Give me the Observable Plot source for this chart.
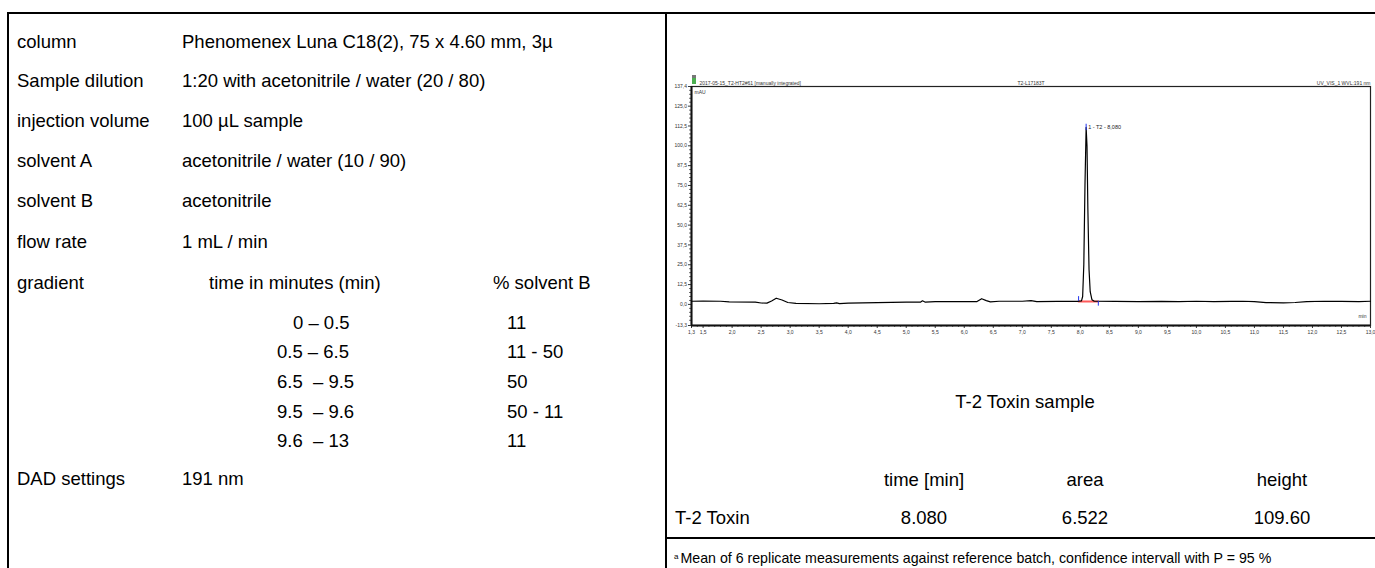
<!DOCTYPE html>
<html><head><meta charset="utf-8">
<script src="https://cdn.jsdelivr.net/npm/d3@7"></script>
<script src="https://cdn.jsdelivr.net/npm/@observablehq/plot@0.6"></script>
<style>
html,body{margin:0;padding:0;background:#fff;}
#page{position:relative;width:1375px;height:568px;overflow:hidden;font-family:"Liberation Sans",Arial,sans-serif;color:#000;}
.t{position:absolute;white-space:pre;font-size:18.5px;line-height:1;transform:translateY(-50%);}
.c{transform:translate(-50%,-50%);}
.ln{position:absolute;background:#000;}
#chart{position:absolute;left:666px;top:66px;}
#chart svg{overflow:visible;}
.icon{position:absolute;left:692px;top:75px;width:4px;height:9px;background:#4caf50;border-top:3px solid #777;box-sizing:border-box;}
</style></head><body><div id="page"></div>
<script>
// ---- method parameters (left panel) ----
const paramLabels = ["column", "Sample dilution", "injection volume", "solvent A", "solvent B", "flow rate", "gradient", "DAD settings"];
const paramValues = ["Phenomenex Luna C18(2), 75 x 4.60 mm, 3µ", "1:20 with acetonitrile / water (20 / 80)", "100 µL sample", "acetonitrile / water (10 / 90)", "acetonitrile", "1 mL / min", "", "191 nm"];
const gradientHeaders = ["time in minutes (min)", "% solvent B"];
const gradientTimes = ["0 – 0.5", "0.5 – 6.5", "6.5  – 9.5", "9.5  – 9.6", "9.6  – 13"];
const gradientB = ["11", "11 - 50", "50", "50 - 11", "11"];

// ---- chromatogram ----
const chromTitleLeft = "2017-05-15_T2-HT2#61 [manually integrated]";
const chromTitleMid = "T2-L17183T";
const chromTitleRight = "UV_VIS_1 WVL:191 nm";
const yUnit = "mAU";
const xUnit = "min";
const xDomain = [1.3, 13.0];
const yDomain = [-13.3, 137.4];
const xTicks = [1.3, 1.5, 2.0, 2.5, 3.0, 3.5, 4.0, 4.5, 5.0, 5.5, 6.0, 6.5, 7.0, 7.5, 8.0, 8.5, 9.0, 9.5, 10.0, 10.5, 11.0, 11.5, 12.0, 12.5, 13.0];
const yTicks = [-13.3, 0.0, 12.5, 25.0, 37.5, 50.0, 62.5, 75.0, 87.5, 100.0, 112.5, 125.0, 137.4];
const traceTime = [1.3, 1.5, 1.8, 1.95, 2.4, 2.5, 2.6, 2.68, 2.76, 2.86, 2.96, 3.1, 3.5, 3.75, 3.8, 3.85, 4.0, 4.5, 5.0, 5.25, 5.28, 5.33, 5.5, 6.0, 6.22, 6.3, 6.38, 6.45, 6.6, 7.0, 7.15, 7.25, 7.6, 7.95, 8.02, 8.04, 8.06, 8.08, 8.10, 8.115, 8.13, 8.15, 8.17, 8.20, 8.24, 8.6, 9.0, 9.4, 9.7, 10.0, 10.3, 10.6, 10.8, 11.0, 11.2, 11.5, 11.7, 11.9, 12.2, 12.5, 12.8, 13.0];
const traceMAU  = [2.0, 2.1, 2.0, 1.6, 1.4, 0.9, 0.8, 2.2, 3.9, 2.8, 1.2, 0.7, 0.4, 0.6, 1.0, 0.5, 0.8, 1.1, 1.4, 1.5, 2.3, 1.4, 1.7, 1.7, 1.8, 3.6, 2.4, 1.6, 2.0, 2.0, 2.4, 1.7, 1.9, 1.9, 2.2, 5, 25, 75, 111.6, 100, 60, 22, 8, 3, 2.0, 1.9, 1.8, 1.9, 1.7, 2.0, 1.7, 1.9, 2.0, 1.8, 1.1, 1.0, 1.2, 1.7, 2.0, 1.9, 1.7, 2.0];
const peakLabel = "1 - T2 - 8,080";
const peakApex = [8.10, 111.6];
const peakStart = [7.97, 1.9];
const peakEnd = [8.31, 1.9];
const markerLen = 3; // mAU

// ---- result table ----
const resultTitle = "T-2 Toxin sample";
const resultHeaders = ["time [min]", "area", "height"];
const resultCompound = "T-2 Toxin";
const resultValues = ["8.080", "6.522", "109.60"];
const footnote = "Mean of 6 replicate measurements against reference batch, confidence intervall with P = 95 %";

// ---------- layout ----------
const page = document.getElementById("page");
function txt(s, x, y, opts = {}) {
  const d = document.createElement("div");
  d.className = "t" + (opts.center ? " c" : "");
  d.textContent = s;
  d.style.left = x + "px"; d.style.top = y + "px";
  if (opts.size) d.style.fontSize = opts.size + "px";
  page.appendChild(d);
  return d;
}
function ln(x, y, w, h) {
  const d = document.createElement("div");
  d.className = "ln";
  Object.assign(d.style, {left: x + "px", top: y + "px", width: w + "px", height: h + "px"});
  page.appendChild(d);
}
ln(7, 12, 1368, 2);
ln(7, 12, 2, 556);
ln(665, 12, 2, 556);
ln(665, 537, 710, 2);

const rowY = [42, 81, 121, 161, 201, 242, 283, 479];
paramLabels.forEach((l, i) => txt(l, 17, rowY[i]));
paramValues.forEach((v, i) => { if (v) txt(v, 182, rowY[i]); });
txt(gradientHeaders[0], 209, rowY[6]);
txt(gradientHeaders[1], 493, rowY[6]);
const gradY = [323, 352, 382, 412, 441];
gradientTimes.forEach((s, i) => txt(s, i === 0 ? 293 : 277, gradY[i]));
gradientB.forEach((s, i) => txt(s, 507, gradY[i]));

txt(resultTitle, 1025, 402, {center: true});
const colX = [924, 1085, 1282];
resultHeaders.forEach((s, i) => txt(s, colX[i], 480, {center: true}));
txt(resultCompound, 675, 518);
resultValues.forEach((s, i) => txt(s, colX[i], 518, {center: true}));
const fn = txt("", 674, 558, {size: 14.2});
fn.innerHTML = '<sup style="font-size:8px;vertical-align:4px;margin-right:2px">a</sup>' + footnote;

// ---------- chromatogram ----------
const trace = traceTime.map((t, i) => ({t, v: traceMAU[i]}));
const fmt = d => d.toFixed(1).replace(".", ",");
const none = () => "";
const xMinor = d3.range(14, 130).map(d => d / 10).filter(d => Math.abs(d * 2 - Math.round(d * 2)) > 1e-6);
const yMinor = d3.range(-5, 55).map(d => d * 2.5).filter(d => d % 12.5 !== 0 && d > yDomain[0] && d < yDomain[1]);

const chart = Plot.plot({
  width: 709, height: 280,
  marginLeft: 25, marginRight: 5, marginTop: 20, marginBottom: 21,
  style: {fontFamily: "Liberation Sans, Arial, sans-serif", fontSize: "5px", background: "transparent", color: "#222"},
  x: {domain: xDomain},
  y: {domain: yDomain},
  marks: [
    Plot.frame({stroke: "#222", strokeWidth: 1.2}),
    Plot.axisY({ticks: yMinor, tickSize: 1.8, tickFormat: none, label: null, strokeWidth: 0.8}),
    Plot.axisY({ticks: yTicks, tickSize: 3, tickPadding: 1.5, tickFormat: fmt, label: null, strokeWidth: 0.9, fill: "#333"}),
    Plot.axisX({ticks: xMinor, tickSize: 1.8, tickFormat: none, label: null, strokeWidth: 0.8}),
    Plot.axisX({ticks: xTicks, tickSize: 3, tickPadding: 1.5, tickFormat: fmt, label: null, strokeWidth: 0.9, fill: "#333"}),
    Plot.ruleX([xDomain[0]], {stroke: "#111", strokeWidth: 2}),
    Plot.ruleY([yDomain[0]], {stroke: "#111", strokeWidth: 2}),
    Plot.line([{t: peakStart[0], v: peakStart[1]}, {t: peakEnd[0], v: peakEnd[1]}], {x: "t", y: "v", stroke: "#ff5a5a", strokeWidth: 2}),
    Plot.line(trace, {x: "t", y: "v", stroke: "#000", strokeWidth: 1.2}),
    Plot.ruleX([peakStart[0]], {y1: peakStart[1], y2: peakStart[1] + markerLen, stroke: "#2233ee", strokeWidth: 1}),
    Plot.ruleX([peakEnd[0]], {y1: peakEnd[1] - markerLen, y2: peakEnd[1], stroke: "#2233ee", strokeWidth: 1}),
    Plot.ruleX([peakApex[0]], {y1: peakApex[1] - 2, y2: peakApex[1] + 2, stroke: "#2233ee", strokeWidth: 1}),
    Plot.text([peakLabel], {x: peakApex[0], y: peakApex[1], dx: 2, textAnchor: "start", fontSize: 5.5, fill: "#222"}),
    Plot.text([chromTitleLeft], {frameAnchor: "top-left", dx: 8, dy: -5, textAnchor: "start", fill: "#333"}),
    Plot.text([chromTitleMid], {frameAnchor: "top", dy: -5, fill: "#333"}),
    Plot.text([chromTitleRight], {frameAnchor: "top-right", dy: -5, textAnchor: "end", fill: "#333"}),
    Plot.text([yUnit], {frameAnchor: "top-left", dx: 3, dy: 4, textAnchor: "start", fill: "#333"}),
    Plot.text([xUnit], {frameAnchor: "bottom-right", dx: -4, dy: -8, textAnchor: "end", fill: "#333"})
  ]
});
const holder = document.createElement("div");
holder.id = "chart";
holder.appendChild(chart);
page.appendChild(holder);
const icon = document.createElement("div");
icon.className = "icon";
page.appendChild(icon);
</script></body></html>
